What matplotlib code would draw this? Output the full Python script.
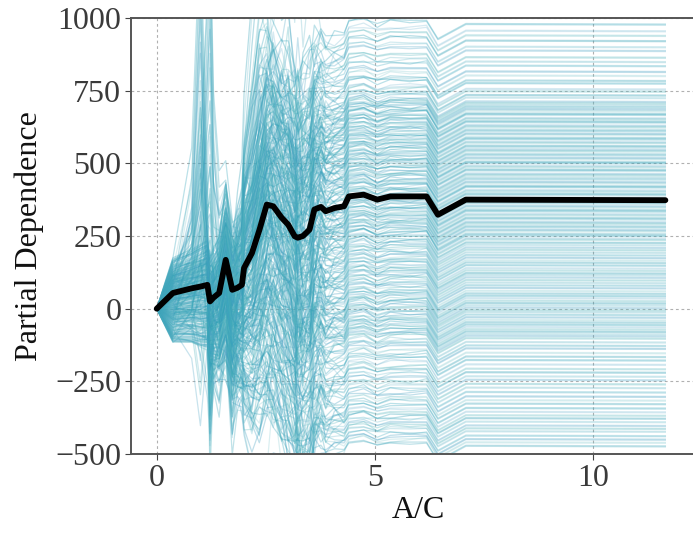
import matplotlib
matplotlib.use("Agg")
import matplotlib.pyplot as plt
import numpy as np

# ---------------- data ----------------
# feature grid (A/C)
x_grid = [0, 0.37, 0.8, 1.0, 1.16, 1.22, 1.3, 1.43, 1.58, 1.73, 1.85, 1.95, 2.0,
          2.18, 2.35, 2.52, 2.67, 2.86, 3.01, 3.16, 3.23, 3.35, 3.5, 3.61, 3.76,
          3.87, 4.07, 4.29, 4.4, 4.74, 5.05, 5.35, 5.8, 6.18, 6.44, 7.08, 11.65]

# average (partial dependence) curve
pdp_values = [0, 54, 70, 76, 82, 25, 38, 54, 168, 65, 72, 82, 140, 191, 270,
              358, 352, 313, 289, 249, 244, 250, 272, 341, 350, 335, 346, 352,
              386, 392, 375, 386, 386, 386, 323, 375, 373]

# final level of each individual (ICE) curve, read at the right side
final_levels = [
    975, 952, 936, 918, 897, 884, 861, 846, 832, 812, 798, 781, 772, 752, 744,
    731, 722, 709, 703, 696,
    690, 683, 677, 668, 664, 653, 649, 641, 637, 627, 622, 613, 608, 599, 595,
    585, 580, 571, 567, 557, 552, 544, 539, 530, 525, 516, 511, 502, 498, 489,
    484, 475, 471, 461, 456, 448, 442, 433, 428, 419, 415, 405, 400, 392, 387,
    378, 373, 364, 359, 350, 345, 337, 332, 323, 318, 309, 304, 295, 290, 282,
    277, 268, 263, 254, 248, 239, 234, 224, 216, 207, 199, 190, 181, 172,
    163, 155, 146, 136, 128, 119, 112, 104, 95, 86, 77, 68, 58, 49, 41, 33,
    24, 16, 8, 0, -8, -15, -24, -33, -42, -50, -58, -66, -74, -82, -90, -97,
    -105, -118, -130, -140, -155, -168, -180, -195, -210, -222, -236, -248,
    -262, -275, -290, -305, -318, -330, -345, -358, -370, -380,
    -392, -405, -415, -425, -440, -452, -463, -475]

# neighbouring curves that end close to each listed level
twin_offsets = [0, 3.5]

# how much of each curve's final deviation is already present along the grid
spread_share = [0, 0.2, 0.22, 0.24, 0.25, 0.25, 0.27, 0.3, 0.35, 0.35, 0.4,
                0.45, 0.55, 0.65, 0.75, 0.85, 0.9, 0.9, 0.92, 0.92, 0.93, 0.95,
                0.95, 0.97, 0.97, 0.98, 0.98, 0.99, 1, 1, 1, 1, 1, 1, 1, 1, 1]

# excursion patterns of the individual curves (added offsets)
excursions = [
    [0, 0, 350, 1100, 200, -150, -50, 0, 50, -100, 0, 0, 50, 100, 150, 100, 0,
     -80, 60, -40, 0, 30, -20, 50, 0, -30, 20, 0, 0, 10, -10, 5, -5, 0, 0, 0, 0],
    [0, 0, -20, 0, 30, -450, -100, 80, 20, -150, 100, 120, 200, 300, 250, -50,
     -100, 120, -60, 80, -100, -50, 60, -40, 80, 30, -20, 20, 0, -10, 15, 0,
     -10, 5, 0, 0, 0],
    [0, 0, 10, 20, 40, 60, 0, -150, -200, -380, -100, 50, 150, 300, 500, 400,
     200, 100, -150, -200, 50, 100, 0, 100, -50, 60, 0, 0, 0, 12, -10, 8, 0,
     0, 0, 0, 0],
    [0, 0, 0, 0, 0, 0, 20, 40, 100, -60, 150, 250, 400, 700, 900, 650, 350,
     250, 300, 100, -100, 150, 200, -50, 100, 40, 0, -40, 0, -8, 0, 10, 0, 0,
     0, 0, 0],
    [0, 0, 0, 0, 0, 0, 0, 0, -50, 0, 50, 0, -100, -200, -300, -200, 100, -100,
     -250, -350, -150, -300, -100, -250, -100, -150, -50, -20, 0, 10, 0, -10,
     0, 8, 0, 0, 0],
    [0, 0, 100, 400, 900, 1200, 600, 300, 200, 100, 0, 50, 100, -50, -100,
     100, 200, 0, 80, 150, 200, 0, -100, 50, 100, 0, -30, 0, 0, 0, 12, 0, -8,
     0, 0, 0, 0],
    [0, 0, 0, 0, 0, -80, -150, -100, -250, -200, -150, -100, -200, -300,
     -150, 0, 100, 300, 200, 0, -200, -400, -500, -300, -100, -50, 0, 0, 0, 0,
     -12, 0, 10, 0, 0, 0, 0],
    [0, 0, 0, 0, 0, 0, 0, 0, 30, -30, 60, 0, 50, -50, 100, 150, 200, 400, 600,
     300, 500, 200, 400, 300, 150, 100, 50, 0, 0, 10, 0, -10, 0, 0, 0, 0, 0],
    [0, 0, 0, 0, 0, 0, 0, 0, 0, 0, 0, 0, 0, 0, 0, 0, 0, 0, 0, 0, 0, 0, 0, 0,
     0, 0, 0, 0, 0, 0, 0, 0, 0, 0, 0, 0, 0],
    [0, 0, -40, -60, -80, -350, -200, -300, -150, -420, -250, -200, -300,
     -250, -100, -200, -50, -150, -100, -50, -150, -80, -120, -40, -60, -20,
     -30, 0, 0, -6, 6, 0, 0, 0, 0, 0, 0],
]
excursion_weights = [1.0, 0.5, 0.25, 0.75, 0.15, 0.4, -0.3]

line_colors = ["#3aa7bd", "#4aa3c4", "#5bb8c0", "#2f9fb5"]
line_alphas = [0.34, 0.22, 0.3]

x_ticks = [0, 5, 10]
y_ticks = [-500, -250, 0, 250, 500, 750, 1000]

# ---------------- build ICE table ----------------
xg = np.array(x_grid)
pdp = np.array(pdp_values)
share = np.array(spread_share)
exc = np.array(excursions, dtype=float)
nP, nW = len(excursions), len(excursion_weights)
ice = []
for t, off in enumerate(twin_offsets):
    for i, lvl in enumerate(final_levels):
        dev = lvl + off - pdp_values[-1]
        k = i + 3 * t
        curve = pdp + dev * share + exc[k % nP] * excursion_weights[(i + 2 * t) % nW]
        ice.append(curve)

# ---------------- plot ----------------
plt.rcParams["font.family"] = ["Liberation Serif", "DejaVu Serif"]
fig = plt.figure(figsize=(6.93, 5.40), dpi=100)
ax = fig.add_axes([0.189, 0.159, 0.831, 0.808])

for i, curve in enumerate(ice):
    ax.plot(xg, curve, color=line_colors[i % len(line_colors)], lw=0.9,
            alpha=line_alphas[i % len(line_alphas)], zorder=2)

ax.plot(xg, pdp, color="black", lw=4.2, zorder=5, solid_joinstyle="round",
        solid_capstyle="round")

ax.set_xlim(-0.59, 12.6)
ax.set_ylim(-500, 1000)
ax.set_xticks(x_ticks)
ax.set_yticks(y_ticks)
ax.grid(True, color="#b0b0b0", lw=0.8, linestyle=(0, (2.5, 2.5)), zorder=0)
ax.set_axisbelow(True)

for side in ["left", "bottom", "top"]:
    ax.spines[side].set_color("#555555")
    ax.spines[side].set_linewidth(1.4)
ax.spines["right"].set_visible(False)

ax.tick_params(axis="both", labelsize=23, colors="#444444", length=4,
               width=0.8, pad=3)
for lab in ax.get_xticklabels() + ax.get_yticklabels():
    lab.set_color("#3a3a3a")

ax.set_xlabel("A/C", fontsize=23, color="#111111", labelpad=2)
ax.set_ylabel("Partial Dependence", fontsize=23, color="#111111", labelpad=8)

fig.savefig("out.png", dpi=100)
